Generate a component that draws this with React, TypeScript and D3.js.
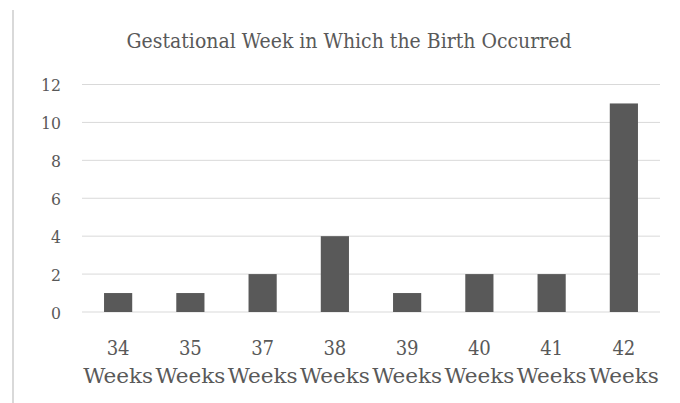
import React from "react";
import * as d3 from "d3";

const weeks = ["34", "35", "37", "38", "39", "40", "41", "42"];
const births = [1, 1, 2, 4, 1, 2, 2, 11];
const yTicks = [0, 2, 4, 6, 8, 10, 12];

const W = 680;
const H = 403;
const grey = "#595959";
const gridColor = "#d9d9d9";

export default function App() {
  // scales for the plot area
  const x = d3
    .scaleBand()
    .domain(weeks)
    .range([82, 660])
    .paddingInner(0.61)
    .paddingOuter(0.305);
  const y = d3.scaleLinear().domain([0, 12]).range([312, 84.5]);

  const font = { fontFamily: "'DejaVu Serif', 'Liberation Serif', serif" };

  return (
    <svg
      width={W}
      height={H}
      style={{ position: "absolute", left: 0, top: 0, background: "#fff" }}
    >
      {/* left border of the chart frame */}
      <line x1={13} x2={13} y1={10} y2={H} stroke={gridColor} strokeWidth={2} />

      <text
        x={349}
        y={48}
        textAnchor="middle"
        style={font}
        fontSize={20.5}
        fill={grey}
        textLength={445}
        lengthAdjust="spacingAndGlyphs"
      >
        Gestational Week in Which the Birth Occurred
      </text>

      {/* gridlines + y labels */}
      {yTicks.map((t) => (
        <g key={t}>
          <line
            x1={82}
            x2={660}
            y1={y(t)}
            y2={y(t)}
            stroke={gridColor}
            strokeWidth={1}
          />
          <text
            x={61}
            y={y(t) + 6.5}
            textAnchor="end"
            style={font}
            fontSize={17.5}
            fill={grey}
            textLength={String(t).length * 10}
            lengthAdjust="spacingAndGlyphs"
          >
            {t}
          </text>
        </g>
      ))}

      {/* bars */}
      {weeks.map((w, i) => (
        <rect
          key={w}
          x={x(w)}
          y={y(births[i])}
          width={x.bandwidth()}
          height={y(0) - y(births[i])}
          fill={grey}
        />
      ))}

      {/* x labels on two lines */}
      {weeks.map((w) => {
        const cx = (x(w) as number) + x.bandwidth() / 2;
        return (
          <g key={w} style={font} fill={grey} textAnchor="middle">
            <text
              x={cx}
              y={355}
              fontSize={20.5}
              textLength={23}
              lengthAdjust="spacingAndGlyphs"
            >
              {w}
            </text>
            <text
              x={cx}
              y={383}
              fontSize={20.5}
              textLength={70}
              lengthAdjust="spacingAndGlyphs"
            >
              Weeks
            </text>
          </g>
        );
      })}
    </svg>
  );
}
